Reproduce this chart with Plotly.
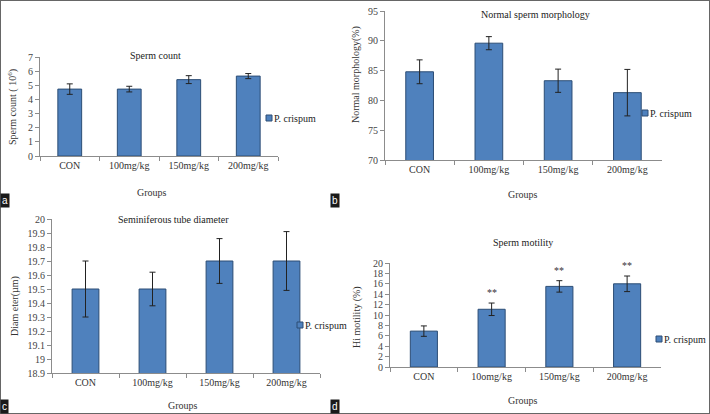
import plotly.graph_objects as go

# ---------------- data ----------------
groups_a = ["CON", "100mg/kg", "150mg/kg", "200mg/kg"]
count_vals = [4.73, 4.73, 5.40, 5.65]
count_err = [0.37, 0.20, 0.28, 0.18]

groups_b = ["CON", "100mg/kg", "150mg/kg", "200mg/kg"]
morph_vals = [84.8, 89.6, 83.3, 81.3]
morph_err = [2.0, 1.1, 1.95, 3.9]

groups_c = ["CON", "100mg/kg", "150mg/kg", "200mg/kg"]
diam_vals = [19.5, 19.5, 19.7, 19.7]
diam_err = [0.2, 0.12, 0.16, 0.21]
diam_ticks = [18.9, 19.0, 19.1, 19.2, 19.3, 19.4, 19.5, 19.6, 19.7, 19.8, 19.9, 20.0]
diam_ticktext = ["18.9", "19", "19.1", "19.2", "19.3", "19.4", "19.5", "19.6", "19.7", "19.8", "19.9", "20"]

groups_d = ["CON", "10omg/kg", "150mg/kg", "200mg/kg"]
motil_vals = [6.9, 11.1, 15.5, 16.0]
motil_err = [1.0, 1.2, 1.1, 1.5]
motil_sig = ["", "**", "**", "**"]

series_name = "P. crispum"
titles = ["Sperm count", "Normal sperm morphology", "Seminiferous tube diameter", "Sperm motility"]
ytitles = ["Sperm count ( 10<sup>6</sup>)", "Normal morphology(%)", "Diam eter(µm)", "Hi motility (%)"]
panel_letters = ["a", "b", "c", "d"]

# ---------------- layout helpers ----------------
W, H = 710, 414
BAR = "#4F81BD"
EDGE = "#2C4D75"
FONT = "Liberation Serif"

def px(x):
    return x / W

def py(y):
    return (H - y) / H

fig = go.Figure()

panels = [
    dict(cats=groups_a, vals=count_vals, err=count_err, xd=(40, 278), yd=(57, 156), rng=[0, 7], dtick=1,
         title=(155, 55), groups=(152, 193), ytitle=(12, 107), leg=(266, 118), letter=(0, 208)),
    dict(cats=groups_b, vals=morph_vals, err=morph_err, xd=(385, 662), yd=(11, 160), rng=[70, 95], dtick=5,
         title=(535, 14), groups=(523, 194), ytitle=(356, 75), leg=(642, 113), letter=(330, 208)),
    dict(cats=groups_c, vals=diam_vals, err=diam_err, xd=(52, 320), yd=(219, 373), rng=[18.9, 20.0], dtick=None,
         title=(173, 219), groups=(183, 405), ytitle=(15, 306), leg=(297, 325), letter=(0, 414)),
    dict(cats=groups_d, vals=motil_vals, err=motil_err, xd=(390, 661), yd=(263, 367), rng=[0, 20], dtick=2,
         title=(523, 243), groups=(523, 400), ytitle=(357, 317), leg=(656, 339), letter=(330, 414)),
]

annotations = []
shapes = []

for i, p in enumerate(panels):
    n = "" if i == 0 else str(i + 1)
    xa, ya = "x" + n, "y" + n
    fig.add_trace(go.Bar(
        x=p["cats"], y=p["vals"], name=series_name, width=0.4,
        marker=dict(color=BAR, line=dict(color=EDGE, width=1)),
        error_y=dict(type="data", array=p["err"], color="#222222", thickness=1, width=3),
        xaxis=xa, yaxis=ya, showlegend=False,
    ))
    xkey, ykey = "xaxis" + n, "yaxis" + n
    xaxis = dict(domain=[px(p["xd"][0]), px(p["xd"][1])], anchor=ya, type="category",
                 showline=True, linecolor="#8c8c8c", linewidth=1, ticks="outside", tickson="boundaries",
                 ticklen=4, tickcolor="#8c8c8c", showgrid=False, zeroline=False, automargin=False,
                 tickfont=dict(family=FONT, size=10, color="#333333"), range=[-0.5, 3.5])
    yaxis = dict(domain=[py(p["yd"][1]), py(p["yd"][0])], anchor=xa, range=p["rng"],
                 showline=True, linecolor="#8c8c8c", linewidth=1, ticks="outside", ticklen=4,
                 tickcolor="#8c8c8c", showgrid=False, zeroline=False, automargin=False,
                 tickfont=dict(family=FONT, size=10, color="#444444"))
    if p["dtick"] is None:
        yaxis.update(tickmode="array", tickvals=diam_ticks, ticktext=diam_ticktext)
    else:
        yaxis.update(dtick=p["dtick"], tick0=p["rng"][0])
    fig.update_layout(**{xkey: xaxis, ykey: yaxis})

    # chart title
    annotations.append(dict(text=titles[i], x=px(p["title"][0]), y=py(p["title"][1]), xref="paper", yref="paper",
                            showarrow=False, font=dict(family=FONT, size=10, color="#222222"),
                            xanchor="center", yanchor="middle"))
    # x title
    annotations.append(dict(text="Groups", x=px(p["groups"][0]), y=py(p["groups"][1]), xref="paper", yref="paper",
                            showarrow=False, font=dict(family=FONT, size=10, color="#333333"),
                            xanchor="center", yanchor="middle"))
    # y title
    annotations.append(dict(text=ytitles[i], x=px(p["ytitle"][0]), y=py(p["ytitle"][1]), xref="paper", yref="paper",
                            showarrow=False, textangle=-90, font=dict(family=FONT, size=10, color="#333333"),
                            xanchor="center", yanchor="middle"))
    # legend square + text
    lx, ly = p["leg"]
    shapes.append(dict(type="rect", xref="paper", yref="paper", x0=px(lx), x1=px(lx + 6),
                       y0=py(ly + 3), y1=py(ly - 3), fillcolor=BAR, line=dict(color=EDGE, width=1)))
    annotations.append(dict(text=series_name, x=px(lx + 7), y=py(ly), xref="paper", yref="paper",
                            showarrow=False, font=dict(family=FONT, size=10, color="#222222"),
                            xanchor="left", yanchor="middle", borderpad=0))
    # panel letter
    lx2, ly2 = p["letter"]
    annotations.append(dict(text=panel_letters[i], x=px(lx2), y=py(ly2), xref="paper", yref="paper",
                            showarrow=False, font=dict(family="Liberation Sans", size=10, color="white"),
                            bgcolor="#1a1a1a", borderpad=1, xanchor="left", yanchor="bottom"))

# significance markers for motility
for c, v, e, s in zip(groups_d, motil_vals, motil_err, motil_sig):
    if s:
        annotations.append(dict(text=s, x=c, y=v + e + 2.0, xref="x4", yref="y4", showarrow=False,
                                font=dict(family=FONT, size=10, color="#333333"), yanchor="middle"))

# outer frame
shapes.append(dict(type="rect", xref="paper", yref="paper", x0=0, x1=1, y0=0, y1=1,
                   line=dict(color="#666666", width=2), fillcolor="rgba(0,0,0,0)"))

fig.update_layout(width=W, height=H, margin=dict(l=0, r=0, t=0, b=0), template="none",
                  paper_bgcolor="white", plot_bgcolor="white", showlegend=False,
                  annotations=annotations, shapes=shapes, bargap=0.6)

fig.write_html("out.html", config={"displayModeBar": False},
               post_script="document.body.style.margin='0px';")
